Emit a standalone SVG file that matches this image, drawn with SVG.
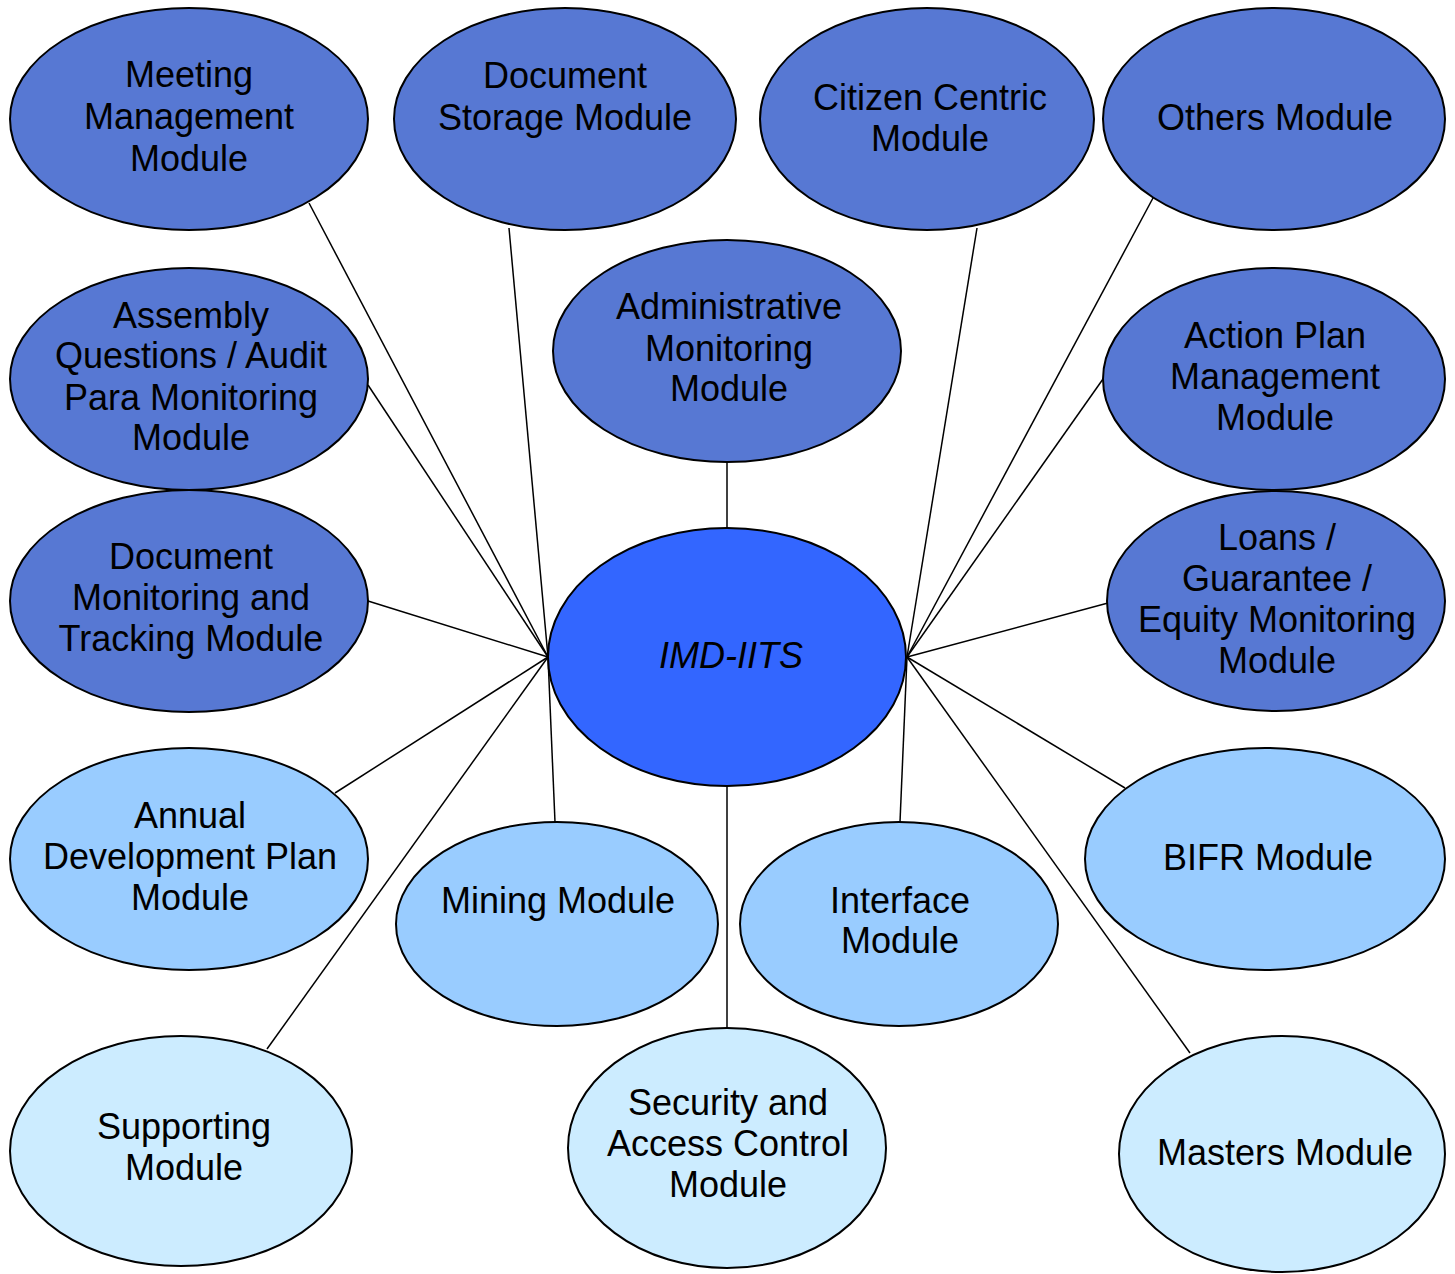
<svg xmlns="http://www.w3.org/2000/svg" width="1455" height="1274" viewBox="0 0 1455 1274">
<style>
.n ellipse{stroke:#000;stroke-width:2}
.d{fill:#5778D3}
.c{fill:#3366FF}
.l{fill:#99CCFF}
.x{fill:#CCECFF}
text{font-family:"Liberation Sans",Arial,sans-serif;font-size:36px;text-anchor:middle;fill:#000}
#links line{stroke:#000;stroke-width:1.5}
</style>
<rect width="1455" height="1274" fill="#fff"/>
<g id="links">
<line x1="548" y1="657" x2="309" y2="203"/>
<line x1="548" y1="657" x2="509" y2="228"/>
<line x1="548" y1="657" x2="368" y2="385"/>
<line x1="548" y1="657" x2="368" y2="601"/>
<line x1="548" y1="657" x2="335" y2="793"/>
<line x1="548" y1="657" x2="267" y2="1049"/>
<line x1="548" y1="657" x2="555" y2="822"/>
<line x1="907" y1="657" x2="977" y2="228"/>
<line x1="907" y1="657" x2="1153" y2="198"/>
<line x1="907" y1="657" x2="1103" y2="379"/>
<line x1="907" y1="657" x2="1108" y2="603"/>
<line x1="907" y1="657" x2="1125" y2="788"/>
<line x1="907" y1="657" x2="1190" y2="1053"/>
<line x1="907" y1="657" x2="900" y2="822"/>
<line x1="727" y1="462" x2="727" y2="528"/>
<line x1="727" y1="786" x2="727" y2="1028"/>
</g>
<g id="meeting" class="n"><ellipse class="d" cx="189" cy="119" rx="179" ry="111"/><text x="189" y="87">Meeting</text><text x="189" y="129">Management</text><text x="189" y="171">Module</text></g>
<g id="docstorage" class="n"><ellipse class="d" cx="565" cy="119" rx="171" ry="111"/><text x="565" y="88">Document</text><text x="565" y="130">Storage Module</text></g>
<g id="citizen" class="n"><ellipse class="d" cx="927" cy="119" rx="167" ry="111"/><text x="930" y="110">Citizen Centric</text><text x="930" y="151">Module</text></g>
<g id="others" class="n"><ellipse class="d" cx="1274" cy="119" rx="171" ry="111"/><text x="1275" y="130">Others Module</text></g>
<g id="admin" class="n"><ellipse class="d" cx="727" cy="351" rx="174" ry="111"/><text x="729" y="319">Administrative</text><text x="729" y="361">Monitoring</text><text x="729" y="401">Module</text></g>
<g id="assembly" class="n"><ellipse class="d" cx="189" cy="379" rx="179" ry="111"/><text x="191" y="328">Assembly</text><text x="191" y="368">Questions / Audit</text><text x="191" y="410">Para Monitoring</text><text x="191" y="450">Module</text></g>
<g id="actionplan" class="n"><ellipse class="d" cx="1274" cy="379" rx="171" ry="111"/><text x="1275" y="348">Action Plan</text><text x="1275" y="389">Management</text><text x="1275" y="430">Module</text></g>
<g id="docmonitor" class="n"><ellipse class="d" cx="189" cy="601" rx="179" ry="111"/><text x="191" y="569">Document</text><text x="191" y="610">Monitoring and</text><text x="191" y="651">Tracking Module</text></g>
<g id="loans" class="n"><ellipse class="d" cx="1276" cy="601" rx="169" ry="110"/><text x="1277" y="550">Loans /</text><text x="1277" y="591">Guarantee /</text><text x="1277" y="632">Equity Monitoring</text><text x="1277" y="673">Module</text></g>
<g id="center" class="n"><ellipse class="c" cx="727" cy="657" rx="179" ry="129"/><text x="731" y="668" font-style="italic">IMD-IITS</text></g>
<g id="annual" class="n"><ellipse class="l" cx="189" cy="859" rx="179" ry="111"/><text x="190" y="828">Annual</text><text x="190" y="869">Development Plan</text><text x="190" y="910">Module</text></g>
<g id="mining" class="n"><ellipse class="l" cx="557" cy="924" rx="161" ry="102"/><text x="558" y="913">Mining Module</text></g>
<g id="interface" class="n"><ellipse class="l" cx="899" cy="924" rx="159" ry="102"/><text x="900" y="913">Interface</text><text x="900" y="953">Module</text></g>
<g id="bifr" class="n"><ellipse class="l" cx="1265" cy="859" rx="180" ry="111"/><text x="1268" y="870">BIFR Module</text></g>
<g id="supporting" class="n"><ellipse class="x" cx="181" cy="1151" rx="171" ry="115"/><text x="184" y="1139">Supporting</text><text x="184" y="1180">Module</text></g>
<g id="security" class="n"><ellipse class="x" cx="727" cy="1148" rx="159" ry="120"/><text x="728" y="1115">Security and</text><text x="728" y="1156">Access Control</text><text x="728" y="1197">Module</text></g>
<g id="masters" class="n"><ellipse class="x" cx="1282" cy="1154" rx="163" ry="118"/><text x="1285" y="1165">Masters Module</text></g>
</svg>
